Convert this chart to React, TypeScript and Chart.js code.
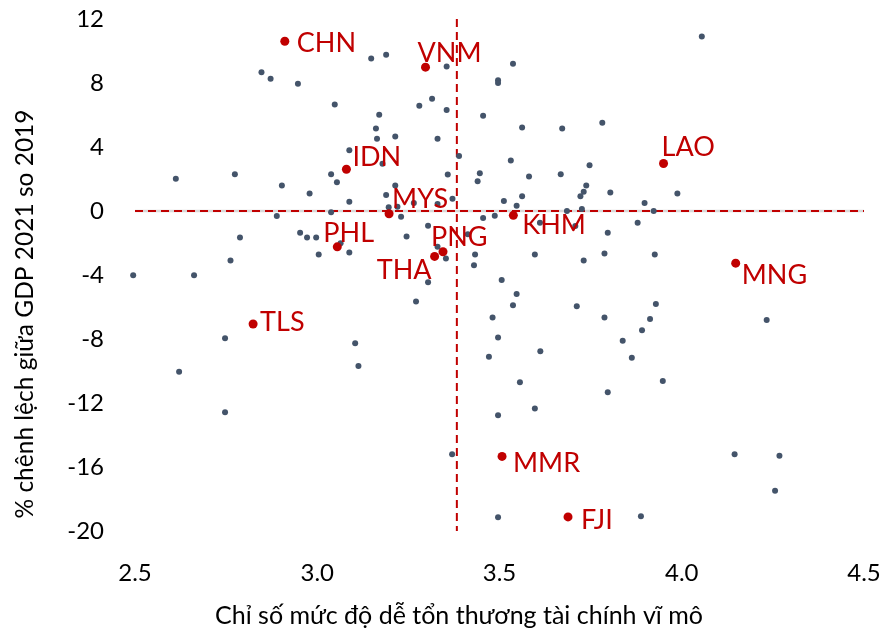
import React, { useEffect, useRef } from "react";
import { Chart, registerables } from "chart.js";

Chart.register(...registerables);

// ---- data ----
const grayX = [
  2.847, 2.872, 2.947, 3.048, 3.088, 2.612, 2.774, 2.903, 2.979, 3.038, 3.054, 3.088, 2.889, 3.038,
  3.148, 3.189, 3.355, 3.537, 3.496, 3.496, 3.315, 3.28, 3.355, 3.17, 3.455, 3.161, 3.562, 3.672,
  3.164, 3.214, 3.33, 3.179, 3.389, 3.531, 3.747, 3.358, 3.446, 3.44, 3.581, 3.668, 3.738, 3.731,
  3.722, 3.214, 3.189, 3.196, 3.22, 3.265, 3.33, 3.371, 3.23, 3.512, 3.562, 3.547, 3.726, 3.685,
  3.455, 3.487, 4.055, 3.782, 3.804, 3.988, 3.898, 3.923,
  2.953, 2.972, 2.997, 2.788, 3.064, 3.088, 3.004, 2.762, 2.495, 2.662, 2.747, 3.104, 2.621, 3.113,
  3.611, 3.708, 3.304, 3.245, 3.413, 3.33, 3.353, 3.433, 3.43, 3.597, 3.731, 3.304, 3.506, 3.547,
  3.271, 3.537, 3.712, 3.481, 3.496, 3.471, 3.612, 3.556,
  3.879, 3.797, 3.788, 3.926, 3.929, 3.788, 3.913, 4.233, 3.891, 3.838, 3.863, 3.948, 3.797,
  2.747, 3.597, 3.496, 3.37, 3.496, 4.145, 4.268, 4.256, 3.888,
];
const grayY = [
  8.67, 8.26, 7.96, 6.66, 3.8, 2.01, 2.3, 1.59, 1.09, 2.3, 1.8, 0.58, -0.31, -0.08,
  9.53, 9.76, 9.03, 9.2, 8.17, 8.0, 7.02, 6.58, 6.31, 6.02, 5.96, 5.16, 5.22, 5.16,
  4.51, 4.66, 4.51, 2.95, 3.43, 3.15, 2.86, 2.28, 2.36, 1.86, 2.15, 2.3, 1.59, 1.21,
  0.92, 1.59, 1.0, 0.23, 0.27, 0.5, 0.44, 0.77, -0.36, 0.63, 0.92, 0.33, 0.13, 0.0,
  -0.44, -0.29, 10.91, 5.52, 1.15, 1.09, 0.5, 0.0,
  -1.36, -1.65, -1.65, -1.65, -2.01, -2.59, -2.72, -3.09, -4.01, -4.01, -7.96, -8.26, -10.05, -9.68,
  -0.73, -0.94, -0.92, -1.59, -1.46, -2.24, -2.97, -2.72, -3.39, -2.72, -3.09, -4.45, -4.31, -5.18,
  -5.66, -5.89, -5.96, -6.66, -7.9, -9.11, -8.76, -10.7,
  -0.73, -1.36, -2.65, -2.72, -5.81, -6.66, -6.75, -6.81, -7.46, -8.11, -9.17, -10.62, -11.33,
  -12.58, -12.35, -12.77, -15.21, -19.14, -15.21, -15.3, -17.49, -19.08,
];

const countryLabels = ["CHN", "VNM", "IDN", "MYS", "LAO", "PHL", "PNG", "THA", "KHM", "MNG", "TLS", "MMR", "FJI"];
const countryX = [2.911, 3.297, 3.08, 3.197, 3.95, 3.055, 3.345, 3.322, 3.538, 4.148, 2.824, 3.507, 3.688];
const countryY = [10.61, 8.99, 2.61, -0.17, 2.97, -2.24, -2.55, -2.84, -0.27, -3.26, -7.06, -15.34, -19.12];

const xTicks = [2.5, 3.0, 3.5, 4.0, 4.5];
const yTicks = [12, 8, 4, 0, -4, -8, -12, -16, -20];

const refLineX = 3.383; // vertical dashed reference
const refLineY = 0; // horizontal dashed reference

const xTitle = "Chỉ số mức độ dễ tổn thương tài chính vĩ mô";
const yTitle = "% chênh lệch giữa GDP 2021 so 2019";

// label placement (pixel offsets from the dot: dx, baseline dy, alignment)
const labelPlacement: Record<string, [number, number, CanvasTextAlign]> = {
  CHN: [12, 11, "left"],
  VNM: [-8, -5, "left"],
  IDN: [6, -3, "left"],
  MYS: [3, -6, "left"],
  LAO: [-2, -7, "left"],
  PHL: [-14, -5, "left"],
  PNG: [-12, -6, "left"],
  THA: [-3, 23, "right"],
  KHM: [9, 19, "left"],
  MNG: [6, 21, "left"],
  TLS: [7, 7, "left"],
  MMR: [11, 16, "left"],
  FJI: [13, 12, "left"],
};

const RED = "#C00000";
const GRAY = "#44546A";
const FONT = "Lato, 'Open Sans', sans-serif";

const labelsPlugin = {
  id: "countryLabels",
  afterDatasetsDraw(chart: any) {
    const { ctx, scales } = chart;
    ctx.save();
    ctx.font = `27px ${FONT}`;
    ctx.fillStyle = RED;
    ctx.textBaseline = "alphabetic";
    countryLabels.forEach((lab, i) => {
      const px = scales.x.getPixelForValue(countryX[i]);
      const py = scales.y.getPixelForValue(countryY[i]);
      const [dx, dy, align] = labelPlacement[lab];
      ctx.textAlign = align;
      ctx.fillText(lab, px + dx, py + dy);
    });
    ctx.restore();
  },
  afterDraw(chart: any) {
    const { ctx } = chart;
    ctx.save();
    ctx.fillStyle = "#000";
    ctx.textAlign = "center";
    ctx.textBaseline = "middle";
    ctx.font = `25px ${FONT}`;
    ctx.fillText(xTitle, 459, 616);
    ctx.translate(25, 314);
    ctx.rotate(-Math.PI / 2);
    ctx.font = `24.5px ${FONT}`;
    ctx.fillText(yTitle, 0, 0);
    ctx.restore();
  },
};

export default function App() {
  const ref = useRef<HTMLCanvasElement | null>(null);
  useEffect(() => {
    if (!ref.current) return;
    // Chart.js draws dataset 0 on top, so the list goes from top layer to bottom layer
    const chart = new Chart(ref.current, {
      type: "scatter",
      data: {
        datasets: [
          {
            data: countryX.map((x, i) => ({ x, y: countryY[i] })),
            pointRadius: 4.5,
            pointBackgroundColor: RED,
            pointBorderWidth: 0,
            borderColor: RED,
            clip: false,
          },
          {
            data: grayX.map((x, i) => ({ x, y: grayY[i] })),
            pointRadius: 3,
            pointBackgroundColor: GRAY,
            pointBorderWidth: 0,
            borderColor: GRAY,
            clip: false,
          },
          {
            data: [
              { x: refLineX, y: yTicks[0] },
              { x: refLineX, y: yTicks[yTicks.length - 1] },
            ],
            showLine: true,
            borderColor: RED,
            borderWidth: 2,
            borderDash: [8, 5],
            pointRadius: 0,
          },
          {
            data: [
              { x: xTicks[0], y: refLineY },
              { x: xTicks[xTicks.length - 1], y: refLineY },
            ],
            showLine: true,
            borderColor: RED,
            borderWidth: 2,
            borderDash: [8, 5],
            pointRadius: 0,
          },
          {
            data: [
              { x: xTicks[0], y: refLineY },
              { x: xTicks[xTicks.length - 1], y: refLineY },
            ],
            showLine: true,
            borderColor: "#D9D9D9",
            borderWidth: 2.5,
            pointRadius: 0,
          },
        ],
      },
      options: {
        animation: false,
        responsive: false,
        devicePixelRatio: 1,
        layout: { padding: { left: 0, right: 18, top: 19, bottom: 0 } },
        plugins: { legend: { display: false }, tooltip: { enabled: false } },
        scales: {
          x: {
            type: "linear",
            min: xTicks[0],
            max: xTicks[xTicks.length - 1],
            afterBuildTicks: (s: any) => {
              s.ticks = xTicks.map((v) => ({ value: v }));
            },
            afterFit: (s: any) => {
              s.height = 102;
              s.paddingLeft = 0;
              s.paddingRight = 0;
            },
            grid: { display: false, drawTicks: false },
            border: { display: false },
            ticks: {
              padding: 28,
              color: "#000",
              font: { family: FONT, size: 24 },
              callback: (v: any) => Number(v).toFixed(1),
            },
          },
          y: {
            type: "linear",
            min: yTicks[yTicks.length - 1],
            max: yTicks[0],
            afterBuildTicks: (s: any) => {
              s.ticks = yTicks.map((v) => ({ value: v }));
            },
            afterFit: (s: any) => {
              s.width = 135;
              s.paddingTop = 0;
              s.paddingBottom = 0;
            },
            grid: { display: false, drawTicks: false },
            border: { display: false },
            ticks: {
              padding: 31,
              color: "#000",
              font: { family: FONT, size: 24 },
              callback: (v: any) => String(v),
            },
          },
        },
      },
      plugins: [labelsPlugin],
    });
    return () => chart.destroy();
  }, []);
  return (
    <div style={{ position: "fixed", left: 0, top: 0, width: 882, height: 633, background: "#fff" }}>
      <canvas ref={ref} width={882} height={633} style={{ width: 882, height: 633 }} />
    </div>
  );
}
